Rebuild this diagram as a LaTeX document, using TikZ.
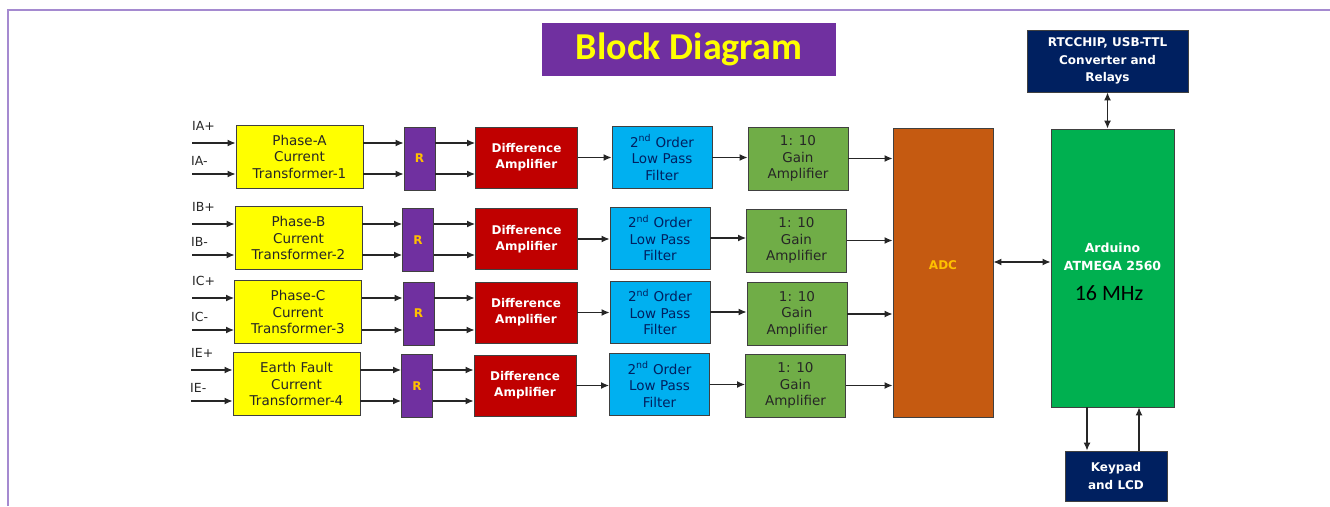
\documentclass[tikz,border=0pt]{standalone}
\usepackage{xcolor}
\usepackage{fontspec}
\setmainfont{DejaVu Sans}
\newfontfamily\calibri{Carlito}
\usetikzlibrary{arrows.meta}

\definecolor{ctyellow}{HTML}{FFFF00}
\definecolor{rpurple}{HTML}{7030A0}
\definecolor{diffred}{HTML}{C00000}
\definecolor{lpfblue}{HTML}{00B0F0}
\definecolor{gaingreen}{HTML}{70AD47}
\definecolor{adcorange}{HTML}{C55A11}
\definecolor{mcugreen}{HTML}{00B050}
\definecolor{navy}{HTML}{002060}
\definecolor{gold}{HTML}{FFC000}
\definecolor{framepurple}{HTML}{A58AD0}

\begin{document}
\begin{tikzpicture}[x=1pt,y=-1pt,
    box/.style={draw=black!75, line width=0.9pt, align=center, inner sep=0pt, font=\fontsize{13.5}{16.5}\selectfont},
    ct/.style={box, fill=ctyellow, text=black!85, minimum width=127pt, minimum height=63pt},
    res/.style={box, fill=rpurple, text=gold, font=\fontsize{12}{14}\selectfont\bfseries, minimum width=31pt, minimum height=63pt},
    diff/.style={box, fill=diffred, text=white, font=\fontsize{12}{16}\selectfont\bfseries, minimum width=102pt, minimum height=61pt},
    lpf/.style={box, fill=lpfblue, text=navy, minimum width=100pt, minimum height=62pt},
    gain/.style={box, fill=gaingreen, text=black!85, minimum width=100pt, minimum height=63pt},
    dark/.style={box, fill=navy, text=white, font=\fontsize{12}{17.5}\selectfont\bfseries},
    plbl/.style={anchor=south west, inner sep=0pt, yshift=12pt, font=\fontsize{12.5}{14}\selectfont, text=black!85},
    mlbl/.style={plbl, yshift=-4pt, xshift=-1pt},
    sig/.style={-{Latex[length=8pt,width=7pt]}, line width=1.2pt, black!85},
    bisig/.style={{Latex[length=8pt,width=7pt]}-{Latex[length=8pt,width=7pt]}, line width=1.2pt, black!85}]
    \useasboundingbox (0,0) rectangle (1330,506);
    \draw[framepurple, line width=1.5pt] (8,506) -- (8,10) -- (1330,10);
    \node[fill=rpurple, minimum width=294pt, minimum height=53pt, text=ctyellow,
          font=\calibri\bfseries\fontsize{38}{44}\selectfont] (title) at (689,49.5) {Block Diagram};
    %
    \node[ct] (ctA) at (299.5,156.5) {Phase-A\\Current\\Transformer-1};
    \node[res] (rA) at (419.5,158.5) {R};
    \node[diff] (diffA) at (526.5,157.5) {Difference\\Amplifier};
    \node[lpf] (lpfA) at (662,157.5) {2\textsuperscript{nd} Order\\Low Pass\\Filter};
    \node[gain] (gainA) at (798,158.5) {1: 10\\Gain\\Amplifier};
    \coordinate (inAp) at (192,143);
    \coordinate (inAm) at (192,174);
    \node[plbl] (labAp) at (inAp) {IA+};
    \node[mlbl] (labAm) at (inAm) {IA-};
    \draw[sig] (inAp) -- (ctA.west |- inAp);
    \draw[sig] (inAm) -- (ctA.west |- inAm);
    \draw[sig] (ctA.east |- inAp) -- (rA.west |- inAp);
    \draw[sig] (ctA.east |- inAm) -- (rA.west |- inAm);
    \draw[sig] (rA.east |- inAp) -- (diffA.west |- inAp);
    \draw[sig] (rA.east |- inAm) -- (diffA.west |- inAm);
    \draw[sig] (diffA.east) -- (lpfA.west |- diffA.east);
    \draw[sig] (lpfA.east) -- (gainA.west |- lpfA.east);
    %
    \node[ct] (ctB) at (298.5,238) {Phase-B\\Current\\Transformer-2};
    \node[res] (rB) at (418,240) {R};
    \node[diff] (diffB) at (526.5,239) {Difference\\Amplifier};
    \node[lpf] (lpfB) at (660,238) {2\textsuperscript{nd} Order\\Low Pass\\Filter};
    \node[gain] (gainB) at (796.5,240.5) {1: 10\\Gain\\Amplifier};
    \coordinate (inBp) at (192,224);
    \coordinate (inBm) at (192,255);
    \node[plbl] (labBp) at (inBp) {IB+};
    \node[mlbl] (labBm) at (inBm) {IB-};
    \draw[sig] (inBp) -- (ctB.west |- inBp);
    \draw[sig] (inBm) -- (ctB.west |- inBm);
    \draw[sig] (ctB.east |- inBp) -- (rB.west |- inBp);
    \draw[sig] (ctB.east |- inBm) -- (rB.west |- inBm);
    \draw[sig] (rB.east |- inBp) -- (diffB.west |- inBp);
    \draw[sig] (rB.east |- inBm) -- (diffB.west |- inBm);
    \draw[sig] (diffB.east) -- (lpfB.west |- diffB.east);
    \draw[sig] (lpfB.east) -- (gainB.west |- lpfB.east);
    %
    \node[ct] (ctC) at (298,312) {Phase-C\\Current\\Transformer-3};
    \node[res] (rC) at (418.5,313.5) {R};
    \node[diff] (diffC) at (526,312.5) {Difference\\Amplifier};
    \node[lpf] (lpfC) at (660,312) {2\textsuperscript{nd} Order\\Low Pass\\Filter};
    \node[gain] (gainC) at (797,314) {1: 10\\Gain\\Amplifier};
    \coordinate (inCp) at (192,298);
    \coordinate (inCm) at (192,330);
    \node[plbl] (labCp) at (inCp) {IC+};
    \node[mlbl] (labCm) at (inCm) {IC-};
    \draw[sig] (inCp) -- (ctC.west |- inCp);
    \draw[sig] (inCm) -- (ctC.west |- inCm);
    \draw[sig] (ctC.east |- inCp) -- (rC.west |- inCp);
    \draw[sig] (ctC.east |- inCm) -- (rC.west |- inCm);
    \draw[sig] (rC.east |- inCp) -- (diffC.west |- inCp);
    \draw[sig] (rC.east |- inCm) -- (diffC.west |- inCm);
    \draw[sig] (diffC.east) -- (lpfC.west |- diffC.east);
    \draw[sig] (lpfC.east) -- (gainC.west |- lpfC.east);
    %
    \node[ct] (ctE) at (296.5,384) {Earth Fault\\Current\\Transformer-4};
    \node[res] (rE) at (417,386) {R};
    \node[diff] (diffE) at (525,385.5) {Difference\\Amplifier};
    \node[lpf] (lpfE) at (659.5,384.5) {2\textsuperscript{nd} Order\\Low Pass\\Filter};
    \node[gain] (gainE) at (795.5,385.5) {1: 10\\Gain\\Amplifier};
    \coordinate (inEp) at (191,370);
    \coordinate (inEm) at (191,401);
    \node[plbl] (labEp) at (inEp) {IE+};
    \node[mlbl] (labEm) at (inEm) {IE-};
    \draw[sig] (inEp) -- (ctE.west |- inEp);
    \draw[sig] (inEm) -- (ctE.west |- inEm);
    \draw[sig] (ctE.east |- inEp) -- (rE.west |- inEp);
    \draw[sig] (ctE.east |- inEm) -- (rE.west |- inEm);
    \draw[sig] (rE.east |- inEp) -- (diffE.west |- inEp);
    \draw[sig] (rE.east |- inEm) -- (diffE.west |- inEm);
    \draw[sig] (diffE.east) -- (lpfE.west |- diffE.east);
    \draw[sig] (lpfE.east) -- (gainE.west |- lpfE.east);
    %
    \node[box, fill=adcorange, minimum width=100pt, minimum height=289pt] (adc) at (943,272.5) {};
    \node[text=gold, font=\fontsize{12}{14}\selectfont\bfseries] (adctxt) at (943,265) {ADC};
    \node[box, fill=mcugreen, minimum width=123pt, minimum height=278pt] (mcu) at (1112.5,268) {};
    \node[text=white, align=center, font=\fontsize{12.5}{18}\selectfont\bfseries] (mcutxt) at (1112.5,257) {Arduino\\ATMEGA 2560};
    \node[text=black, font=\calibri\fontsize{22}{26}\selectfont] (mcuclk) at (1109,293) {16 MHz};
    \node[dark, minimum width=161pt, minimum height=62pt] (rtc) at (1107.5,61) {RTCCHIP, USB-TTL\\Converter and\\Relays};
    \node[dark, minimum width=102pt, minimum height=50pt, font=\fontsize{12}{18}\selectfont\bfseries] (kbd) at (1116,476) {Keypad\\and LCD};
    \draw[sig] (gainA.east) -- (adc.west |- gainA.east);
    \draw[sig] (gainB.east) -- (adc.west |- gainB.east);
    \draw[sig] (gainC.east) -- (adc.west |- gainC.east);
    \draw[sig] (gainE.east) -- (adc.west |- gainE.east);
    \draw[bisig] ([yshift=6pt]mcu.west) -- ([yshift=6pt]mcu.west -| adc.east);
    \draw[bisig] (rtc.south) -- (rtc.south |- mcu.north);
    \draw[sig] ([xshift=-25.5pt]mcu.south) -- ([xshift=-25.5pt]mcu.south |- kbd.north);
    \draw[sig] ([xshift=23pt]kbd.north) -- ([xshift=23pt]kbd.north |- mcu.south);
\end{tikzpicture}
\end{document}
